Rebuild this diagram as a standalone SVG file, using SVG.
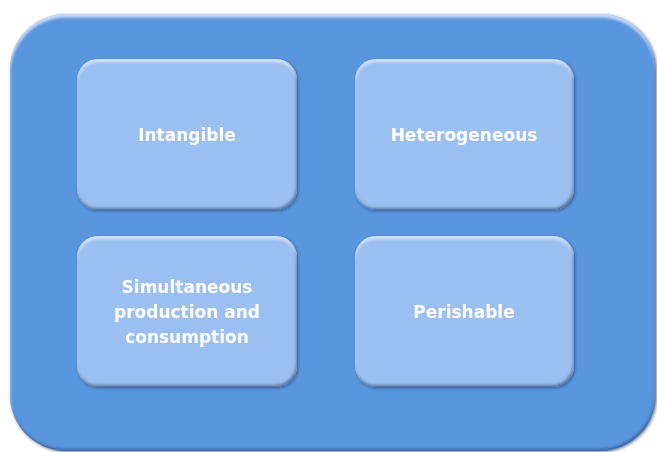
<svg xmlns="http://www.w3.org/2000/svg" width="657" height="452" viewBox="0 0 657 452">
  <defs>
    <!-- soft bevel: light rim along the top, dark rim along the bottom/right -->
    <filter id="bevel" x="-5%" y="-5%" width="110%" height="110%">
      <feGaussianBlur in="SourceAlpha" stdDeviation="1.6" result="blur"/>
      <feOffset in="blur" dx="0" dy="2.5" result="down"/>
      <feComposite in="SourceAlpha" in2="down" operator="out" result="topRim"/>
      <feFlood flood-color="#d6e8ff" flood-opacity="0.9"/>
      <feComposite in2="topRim" operator="in" result="hl"/>
      <feOffset in="blur" dx="-1.5" dy="-2.5" result="up"/>
      <feComposite in="SourceAlpha" in2="up" operator="out" result="botRim"/>
      <feFlood flood-color="#2c4f80" flood-opacity="0.85"/>
      <feComposite in2="botRim" operator="in" result="sh"/>
      <feMerge>
        <feMergeNode in="SourceGraphic"/>
        <feMergeNode in="hl"/>
        <feMergeNode in="sh"/>
      </feMerge>
    </filter>
    <filter id="outerShadow" x="-5%" y="-5%" width="110%" height="110%">
      <feGaussianBlur in="SourceAlpha" stdDeviation="1.5" result="b"/>
      <feOffset in="b" dx="0.5" dy="1" result="o"/>
      <feFlood flood-color="#1c3560" flood-opacity="0.6"/>
      <feComposite in2="o" operator="in" result="s"/>
      <feMerge>
        <feMergeNode in="s"/>
        <feMergeNode in="SourceGraphic"/>
      </feMerge>
    </filter>
  </defs>
  <style>
    .frame { fill: #5a96de; }
    .card { fill: #9bbff0; }
    .label { font-family: "DejaVu Sans", "Liberation Sans", sans-serif; font-size: 17px; font-weight: bold; fill: #ffffff; text-anchor: middle; }
  </style>

  <rect width="657" height="452" fill="#ffffff"/>

  <!-- container -->
  <g id="container" filter="url(#outerShadow)">
    <rect class="frame" x="10" y="14" width="646" height="437" rx="56" ry="56" filter="url(#bevel)"/>
  </g>

  <g id="node-intangible" filter="url(#outerShadow)">
    <rect class="card" x="77" y="59" width="220" height="151" rx="21" ry="21" filter="url(#bevel)"/>
    <text class="label" x="187" y="141">Intangible</text>
  </g>

  <g id="node-heterogeneous" filter="url(#outerShadow)">
    <rect class="card" x="355" y="59" width="219" height="151" rx="21" ry="21" filter="url(#bevel)"/>
    <text class="label" x="464" y="141">Heterogeneous</text>
  </g>

  <g id="node-simultaneous" filter="url(#outerShadow)">
    <rect class="card" x="77" y="236" width="220" height="151" rx="21" ry="21" filter="url(#bevel)"/>
    <text class="label" x="187" y="293">Simultaneous</text>
    <text class="label" x="187" y="318">production and</text>
    <text class="label" x="187" y="343">consumption</text>
  </g>

  <g id="node-perishable" filter="url(#outerShadow)">
    <rect class="card" x="355" y="236" width="219" height="151" rx="21" ry="21" filter="url(#bevel)"/>
    <text class="label" x="464" y="318">Perishable</text>
  </g>

  <g id="connectors"></g>
</svg>
